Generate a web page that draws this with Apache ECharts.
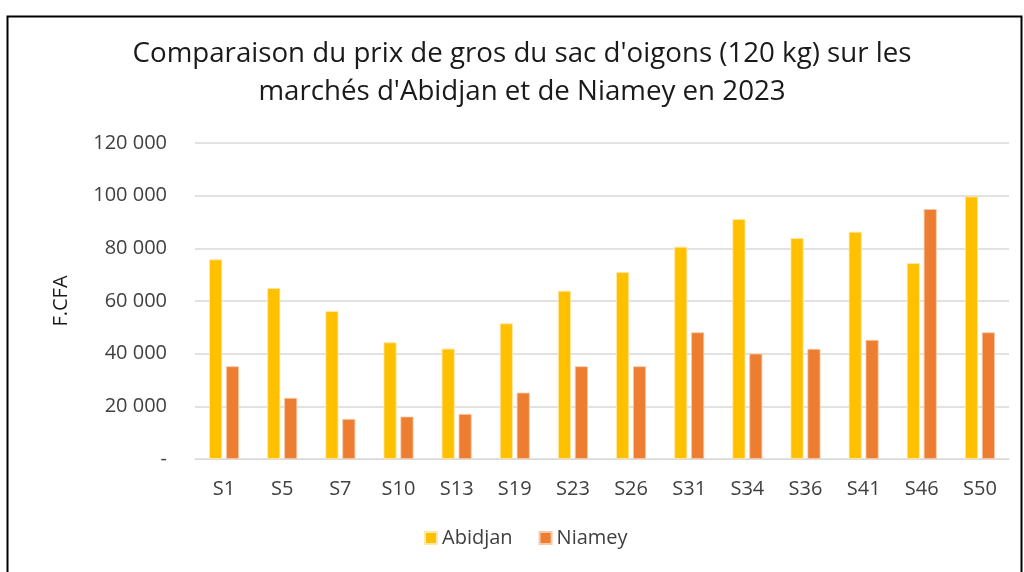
<!DOCTYPE html>
<html><head><meta charset="utf-8">
<script src="https://cdn.jsdelivr.net/npm/echarts@6/dist/echarts.min.js"></script>
<style>html,body{margin:0;padding:0;background:#fff}#c{width:1024px;height:572px}</style>
</head><body><div id="c"></div>
<script>
const categories = ['S1','S5','S7','S10','S13','S19','S23','S26','S31','S34','S36','S41','S46','S50'];
const abidjan = [75800,64900,56200,44300,41900,51500,63900,71000,80600,91100,83900,86300,74400,99700];
const niamey  = [35200,23200,15200,16100,17100,25200,35200,35200,48100,40000,41800,45200,94900,48100];
const seriesNames = ['Abidjan','Niamey'];
const titleText = "Comparaison du prix de gros du sac d'oigons (120 kg) sur les\nmarchés d'Abidjan et de Niamey en 2023";
const yAxisName = 'F.CFA';

const fontFam = "'Open Sans', 'Noto Sans', sans-serif";
const chart = echarts.init(document.getElementById('c'));
chart.setOption({
  animation:false,
  backgroundColor:'#fff',
  graphic:[{type:'rect',left:5,top:14,shape:{width:1014,height:570},style:{fill:'none',stroke:'#000',lineWidth:2},silent:true}],
  title:{text:titleText,left:517,textAlign:'center',top:30,
    textStyle:{fontFamily:fontFam,fontSize:27.7,fontWeight:'normal',color:'#1a1a1a',lineHeight:38}},
  legend:{bottom:19,left:419,itemWidth:12,itemHeight:12,itemGap:26,icon:'rect',
    textStyle:{fontFamily:fontFam,fontSize:20,color:'#404040'},data:seriesNames},
  grid:{left:195,right:15,top:143,bottom:113,containLabel:false},
  xAxis:{type:'category',data:categories,
    axisLine:{lineStyle:{color:'#D9D9D9',width:1}},axisTick:{show:false},
    axisLabel:{fontFamily:fontFam,fontSize:20,color:'#404040',margin:20}},
  yAxis:{type:'value',min:0,max:120000,interval:20000,
    name:yAxisName,nameLocation:'middle',nameGap:124,nameRotate:90,
    nameTextStyle:{fontFamily:fontFam,fontSize:20,color:'#1a1a1a'},
    axisLine:{show:false},axisTick:{show:false},
    splitLine:{lineStyle:{color:'#D9D9D9',width:1.5}},
    axisLabel:{fontFamily:fontFam,fontSize:20,color:'#404040',margin:28,
      formatter:v=>v===0?'-':String(v).replace(/\B(?=(\d{3})+(?!\d))/g,' ')}},
  series:[
    {name:seriesNames[0],type:'bar',data:abidjan,barWidth:13,barGap:'30%',
      itemStyle:{color:'#FFC000',borderColor:'#FFE9A8',borderWidth:0.8}},
    {name:seriesNames[1],type:'bar',data:niamey,barWidth:13,barGap:'30%',
      itemStyle:{color:'#ED7D31',borderColor:'#F8C9A8',borderWidth:0.8}}
  ]
});
</script></body></html>
